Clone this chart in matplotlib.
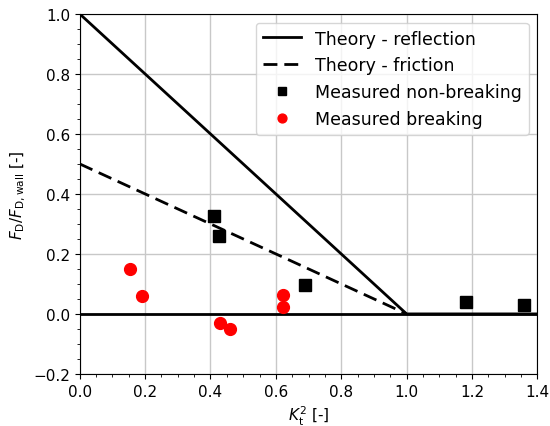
import matplotlib
matplotlib.use("Agg")
import matplotlib.pyplot as plt
from matplotlib.ticker import MultipleLocator

# theory curves
theory_x = [0.0, 1.0, 1.4]
reflection_y = [1.0, 0.0, 0.0]
friction_x = [0.0, 1.0]
friction_y = [0.5, 0.0]

# measurements
nonbreak_x = [0.411, 0.427, 0.688, 1.183, 1.358]
nonbreak_y = [0.326, 0.261, 0.097, 0.039, 0.031]
break_x = [0.153, 0.189, 0.428, 0.461, 0.621, 0.621]
break_y = [0.149, 0.060, -0.029, -0.049, 0.064, 0.022]

fig = plt.figure(figsize=(5.5, 4.27), dpi=100)
ax = fig.add_axes([0.145, 0.122, 0.832, 0.843])

ax.axhline(0, color="black", lw=2, zorder=2)
ax.plot(theory_x, reflection_y, "k-", lw=2, label="Theory - reflection")
ax.plot(friction_x, friction_y, "k--", lw=2, dashes=(5, 2.5), label="Theory - friction")
ax.plot(nonbreak_x, nonbreak_y, "ks", ms=8, ls="none", label="Measured non-breaking")
ax.plot(break_x, break_y, "o", color="red", ms=8.5, ls="none", label="Measured breaking")

ax.set_xlim(0, 1.4)
ax.set_ylim(-0.2, 1.0)
ax.xaxis.set_major_locator(MultipleLocator(0.2))
ax.yaxis.set_major_locator(MultipleLocator(0.2))
ax.xaxis.set_minor_locator(MultipleLocator(0.05))
ax.yaxis.set_minor_locator(MultipleLocator(0.05))
ax.grid(True, which="major", color="#c8c8c8", lw=1)
ax.set_axisbelow(True)
ax.tick_params(labelsize=11)

ax.set_xlabel(r"$K_\mathrm{t}^2$ [-]", fontsize=11)
ax.set_ylabel(r"$F_\mathrm{D}/F_\mathrm{D,wall}$ [-]", fontsize=11)

ax.legend(loc="upper right", fontsize=12.5, handlelength=2.2, markerscale=0.75)

fig.savefig("out.png", dpi=100)
